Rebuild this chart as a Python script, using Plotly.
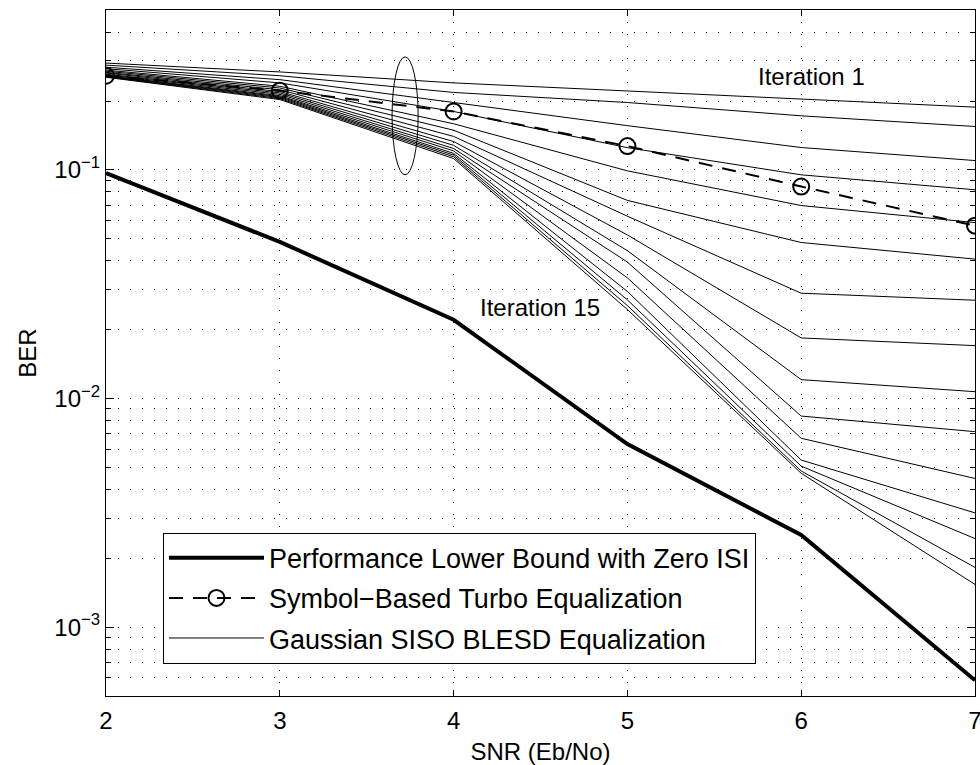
import numpy as np
import plotly.graph_objects as go

# ---------------- data ----------------
snr = [2, 3, 4, 5, 6, 7]

lower_bound = [0.0967, 0.0484, 0.0221, 0.00632, 0.00253, 0.000586]
symbol_turbo = [0.258, 0.222, 0.180, 0.127, 0.0845, 0.057]

# Gaussian SISO BLESD equalization, iterations 1..15 (BER at each SNR)
iter_ber = [
    [0.293, 0.268, 0.240, 0.221, 0.2039, 0.188],
    [0.287, 0.258, 0.218, 0.197, 0.1723, 0.1547],
    [0.281, 0.248, 0.197, 0.156, 0.1252, 0.1098],
    [0.277, 0.240, 0.180, 0.125, 0.0951, 0.0818],
    [0.273, 0.232, 0.159, 0.099, 0.0698, 0.0588],
    [0.270, 0.228, 0.149, 0.0735, 0.0481, 0.0407],
    [0.267, 0.224, 0.140, 0.0627, 0.02887, 0.0269],
    [0.265, 0.220, 0.133, 0.0519, 0.0184, 0.01703],
    [0.262, 0.217, 0.128, 0.0443, 0.01209, 0.01071],
    [0.260, 0.214, 0.124, 0.0395, 0.00838, 0.00716],
    [0.258, 0.211, 0.121, 0.0337, 0.0067, 0.00447],
    [0.257, 0.209, 0.118, 0.0294, 0.00538, 0.00316],
    [0.256, 0.207, 0.116, 0.0270, 0.00506, 0.00244],
    [0.255, 0.205, 0.114, 0.0255, 0.00482, 0.001825],
    [0.254, 0.203, 0.112, 0.0245, 0.00471, 0.001538],
]

y_tick_vals = [1e-3, 1e-2, 1e-1]
y_tick_text = ["10<sup>\u22123</sup>", "10<sup>\u22122</sup>", "10<sup>\u22121</sup>"]
x_tick_vals = [2, 3, 4, 5, 6, 7]

FONT = "Liberation Sans, Arial, Helvetica, sans-serif"
FS = 24
LFS = 27

fig = go.Figure()

for i, ys in enumerate(iter_ber):
    fig.add_trace(go.Scatter(
        x=snr, y=ys, mode="lines",
        line=dict(color="black", width=1),
        name="Gaussian SISO BLESD Equalization",
        legendgroup="c", showlegend=(i == 0), legendrank=3,
        hoverinfo="skip"))

fig.add_trace(go.Scatter(
    x=snr, y=symbol_turbo, mode="lines+markers",
    line=dict(color="black", width=2, dash="14px,10px"),
    marker=dict(symbol="circle-open", size=16, color="black", line=dict(width=2)),
    name="Symbol\u2212Based Turbo Equalization", legendgroup="b", legendrank=2))

fig.add_trace(go.Scatter(
    x=snr, y=lower_bound, mode="lines",
    line=dict(color="black", width=4),
    name="Performance Lower Bound with Zero ISI", legendgroup="a", legendrank=1))

# minor grid positions for log axis
minor_vals = [m * 10.0 ** e for e in range(-4, 0) for m in range(2, 10)]
minor_vals = [v for v in minor_vals if 5e-4 <= v <= 0.5]

fig.update_layout(
    width=980, height=765,
    margin=dict(l=106, r=5, t=10, b=69),
    paper_bgcolor="white", plot_bgcolor="white",
    font=dict(family=FONT, size=FS, color="black"),
    showlegend=True,
    legend=dict(
        x=0.0656, y=0.238, xanchor="left", yanchor="top",
        bgcolor="white", bordercolor="black", borderwidth=1,
        font=dict(family=FONT, size=LFS, color="black"),
        tracegroupgap=2, itemwidth=95,
    ),
    xaxis=dict(
        range=[2, 7], tickvals=x_tick_vals, automargin=False,
        showline=True, linecolor="black", linewidth=1, mirror="ticks",
        ticks="inside", ticklen=6, tickcolor="black",
        showgrid=True, gridcolor="black", gridwidth=1, griddash="1px,11px",
        zeroline=False, ticklabeloverflow="allow", ticklabelstandoff=3,
        title=dict(text="SNR (Eb/No)", font=dict(size=FS), standoff=10),
        tickfont=dict(size=FS),
    ),
    yaxis=dict(
        type="log", range=[np.log10(5e-4), np.log10(0.5)], automargin=False,
        tickvals=y_tick_vals, ticktext=y_tick_text,
        showline=True, linecolor="black", linewidth=1, mirror="ticks",
        ticks="inside", ticklen=8, tickcolor="black",
        showgrid=True, gridcolor="black", gridwidth=1, griddash="1px,11px",
        minor=dict(tickvals=minor_vals, ticks="inside", ticklen=5, tickcolor="black",
                   showgrid=True, gridcolor="black", gridwidth=1, griddash="1px,11px"),
        zeroline=False, ticklabeloverflow="allow",
        title=dict(text="BER", font=dict(size=FS), standoff=10),
        tickfont=dict(size=FS),
    ),
)

# ellipse grouping iteration curves near SNR=3.7
fig.add_shape(type="circle", xref="x", yref="y",
              x0=3.646, x1=3.796, y0=0.0951, y1=0.312,
              line=dict(color="black", width=1))

fig.add_annotation(x=6.057, y=-0.593, xref="x", yref="y", text="Iteration 1",
                   showarrow=False, font=dict(size=FS))
fig.add_annotation(x=4.498, y=-1.60, xref="x", yref="y", text="Iteration 15",
                   showarrow=False, font=dict(size=FS))

fig.write_html(
    "out.html",
    config={"displayModeBar": False},
    post_script="document.body.style.margin='0px';document.body.style.overflow='hidden';",
)
